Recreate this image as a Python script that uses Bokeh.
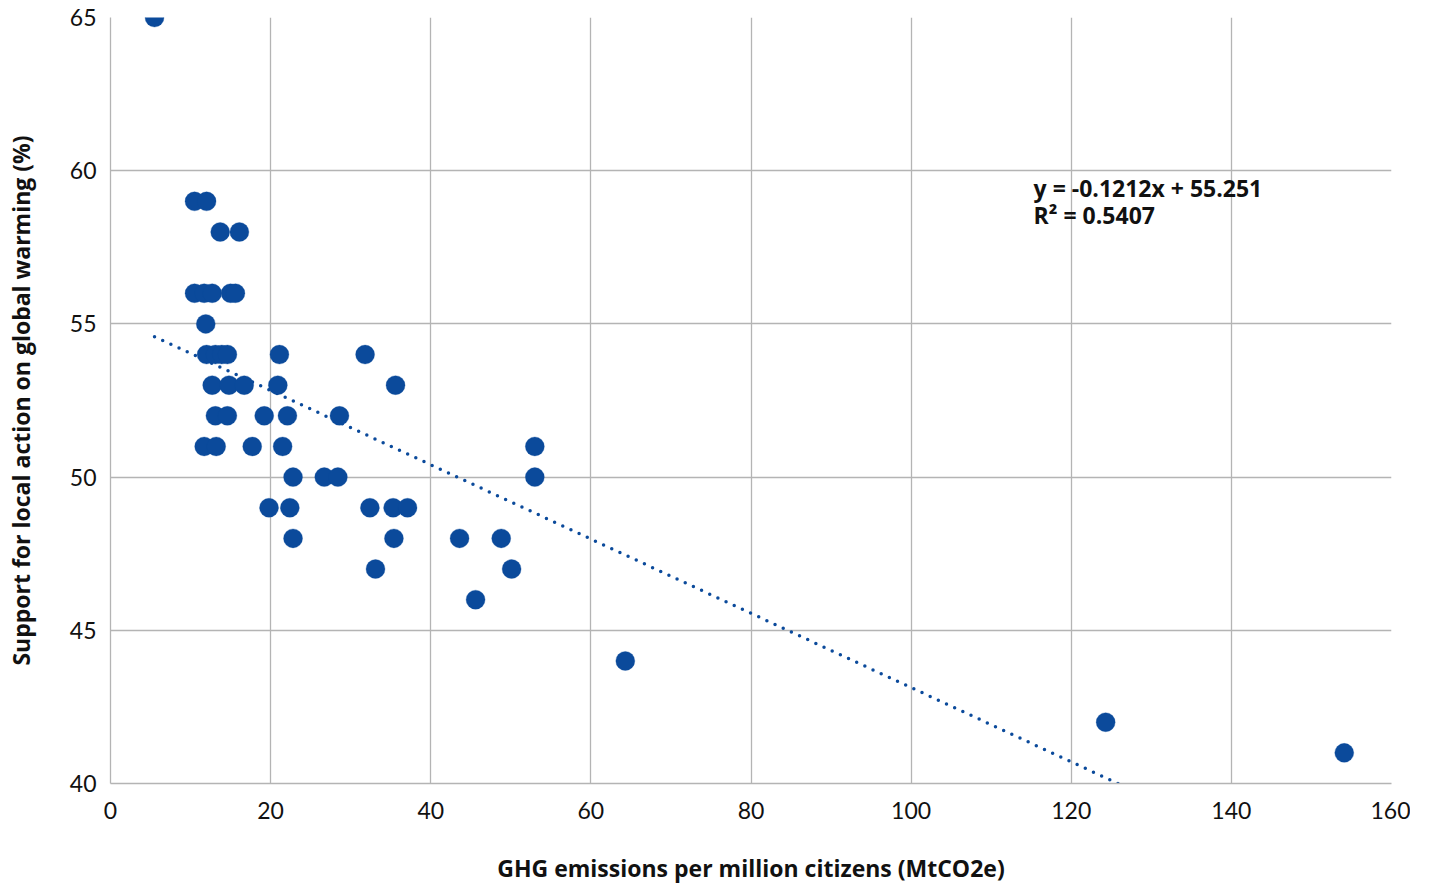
from bokeh.plotting import figure
from bokeh.models import ColumnDataSource, Range1d, FixedTicker, Label
from bokeh.embed import file_html
from bokeh.resources import INLINE

# Data
emissions = [5.5,
             10.5, 12.0,
             13.7, 16.1,
             10.5, 11.7, 12.7, 15.0, 15.6,
             11.9,
             12.0, 13.1, 13.9, 14.6, 21.1, 31.8,
             12.7, 14.8, 16.7, 20.9, 35.6,
             13.1, 14.6, 19.2, 22.1, 28.6,
             11.7, 13.2, 17.7, 21.5, 53.0,
             22.8, 26.7, 28.4, 53.0,
             19.8, 22.4, 32.4, 35.3, 37.1,
             22.8, 35.4, 43.6, 48.8,
             33.1, 50.1,
             45.6,
             64.3,
             124.3,
             154.1]
support = [65,
           59, 59,
           58, 58,
           56, 56, 56, 56, 56,
           55,
           54, 54, 54, 54, 54, 54,
           53, 53, 53, 53, 53,
           52, 52, 52, 52, 52,
           51, 51, 51, 51, 51,
           50, 50, 50, 50,
           49, 49, 49, 49, 49,
           48, 48, 48, 48,
           47, 47,
           46,
           44,
           42,
           41]

slope = -0.1212
intercept = 55.251
r_squared = 0.5407
x_ticks = [0, 20, 40, 60, 80, 100, 120, 140, 160]
y_ticks = [40, 45, 50, 55, 60, 65]

BLUE = "#0b4a9b"
GRID = "#b4b4b4"

p = figure(width=1410, height=886, output_backend="svg", toolbar_location=None,
           x_range=Range1d(0, 160), y_range=Range1d(40, 65),
           min_border_left=110, min_border_right=19,
           min_border_top=17, min_border_bottom=103)
p.outline_line_color = None
p.background_fill_color = "white"

# grid
p.xgrid.ticker = FixedTicker(ticks=x_ticks)
p.ygrid.ticker = FixedTicker(ticks=y_ticks)
for g in (p.xgrid, p.ygrid):
    g.grid_line_color = GRID
    g.grid_line_width = 1.3

# axes
p.xaxis.ticker = FixedTicker(ticks=x_ticks)
p.yaxis.ticker = FixedTicker(ticks=y_ticks)
for ax in (p.xaxis, p.yaxis):
    ax.axis_line_color = GRID
    ax.axis_line_width = 1.3
    ax.major_tick_line_color = None
    ax.minor_tick_line_color = None
    ax.major_label_text_font = "Lato"
    ax.major_label_text_font_size = "23px"
    ax.major_label_text_color = "#111111"
    ax.axis_label_text_font = "Open Sans"
    ax.axis_label_text_font_style = "bold"
    ax.axis_label_text_font_size = "23px"
    ax.axis_label_text_color = "#111111"
p.xaxis.major_label_standoff = 12
p.yaxis.major_label_standoff = 8
p.xaxis.axis_label = "GHG emissions per million citizens (MtCO2e)"
p.yaxis.axis_label = "Support for local action on global warming (%)"
p.xaxis.axis_label_standoff = 30
p.yaxis.axis_label_standoff = 30

# trendline, clipped at the axis minimum
x0 = min(emissions)
x1 = (p.y_range.start - intercept) / slope
p.line([x0, x1], [slope * x0 + intercept, slope * x1 + intercept],
       line_color=BLUE, line_width=3.5, line_dash="0 9", line_cap="round")

src = ColumnDataSource(data=dict(x=emissions, y=support))
p.scatter("x", "y", source=src, size=19, fill_color=BLUE, line_color=BLUE,
          line_width=0.5, line_alpha=0.6)

eq = f"y = {slope}x + {intercept}"
p.add_layout(Label(x=115.3, y=59.45, text=eq, text_font="Open Sans",
                   text_font_style="bold", text_font_size="23px",
                   text_color="#111111", text_baseline="middle"))
p.add_layout(Label(x=115.3, y=58.54, text=f"R\u00b2 = {r_squared}", text_font="Open Sans",
                   text_font_style="bold", text_font_size="23px",
                   text_color="#111111", text_baseline="middle"))

open("out.html", "w").write(file_html(p, INLINE))
